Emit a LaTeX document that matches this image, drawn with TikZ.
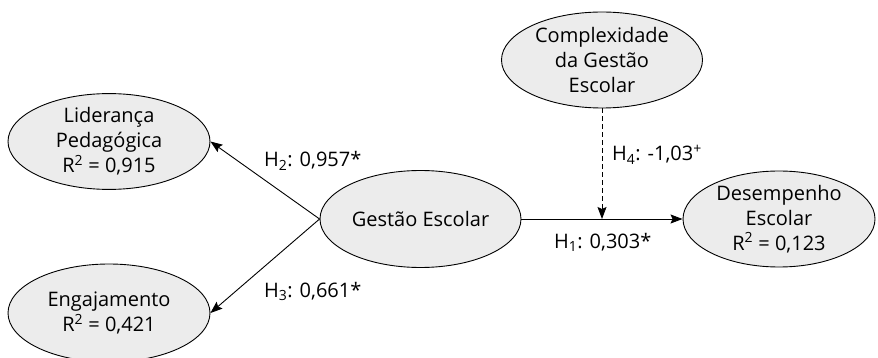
\documentclass[tikz,border=0pt]{standalone}
\usepackage{fontspec}
\setmainfont{Open Sans}
\usetikzlibrary{arrows.meta,shapes.geometric}
\definecolor{ellfill}{RGB}{236,236,236}
\begin{document}
\begin{tikzpicture}[x=1pt,y=-1pt,
  every node/.style={font=\fontsize{20}{25}\selectfont,text=black},
  latent/.style={ellipse,draw=black,line width=0.9pt,fill=ellfill,inner sep=0pt,align=center},
  conn/.style={line width=0.9pt,-{Stealth[length=12pt,width=9pt,inset=2pt]}},
  lbl/.style={anchor=base west,inner sep=0pt}
]
\useasboundingbox (0,0) rectangle (878,358);
\node[latent,minimum width=202pt,minimum height=93pt] (lid) at (109,141.5) {Liderança\\Pedagógica\\R\textsuperscript{2} = 0,915};
\node[latent,minimum width=202pt,minimum height=98pt] (eng) at (109,313) {Engajamento\\R\textsuperscript{2} = 0,421};
\node[latent,minimum width=201pt,minimum height=97pt] (ges) at (420.5,219) {Gestão Escolar};
\node[latent,minimum width=201pt,minimum height=96pt] (com) at (602,60) {Complexidade\\da Gestão\\Escolar};
\node[latent,minimum width=192pt,minimum height=96pt] (des) at (779,219) {Desempenho\\Escolar\\R\textsuperscript{2} = 0,123};
\coordinate (mod) at (602,219);
\draw[conn] (ges.west) -- (lid.east);
\draw[conn] (ges.west) -- (eng.east);
\draw[conn] (ges.east) -- (des.west);
\draw[conn,dash pattern=on 5pt off 3pt] (com.south) -- (mod);
\node[lbl] (h2) at (264,167) {H\textsubscript{2}: 0,957*};
\node[lbl] (h3) at (264,297) {H\textsubscript{3}: 0,661*};
\node[lbl] (h1) at (554,248) {H\textsubscript{1}: 0,303*};
\node[lbl] (h4) at (612,161) {H\textsubscript{4}: -1,03\textsuperscript{+}};
\end{tikzpicture}
\end{document}
